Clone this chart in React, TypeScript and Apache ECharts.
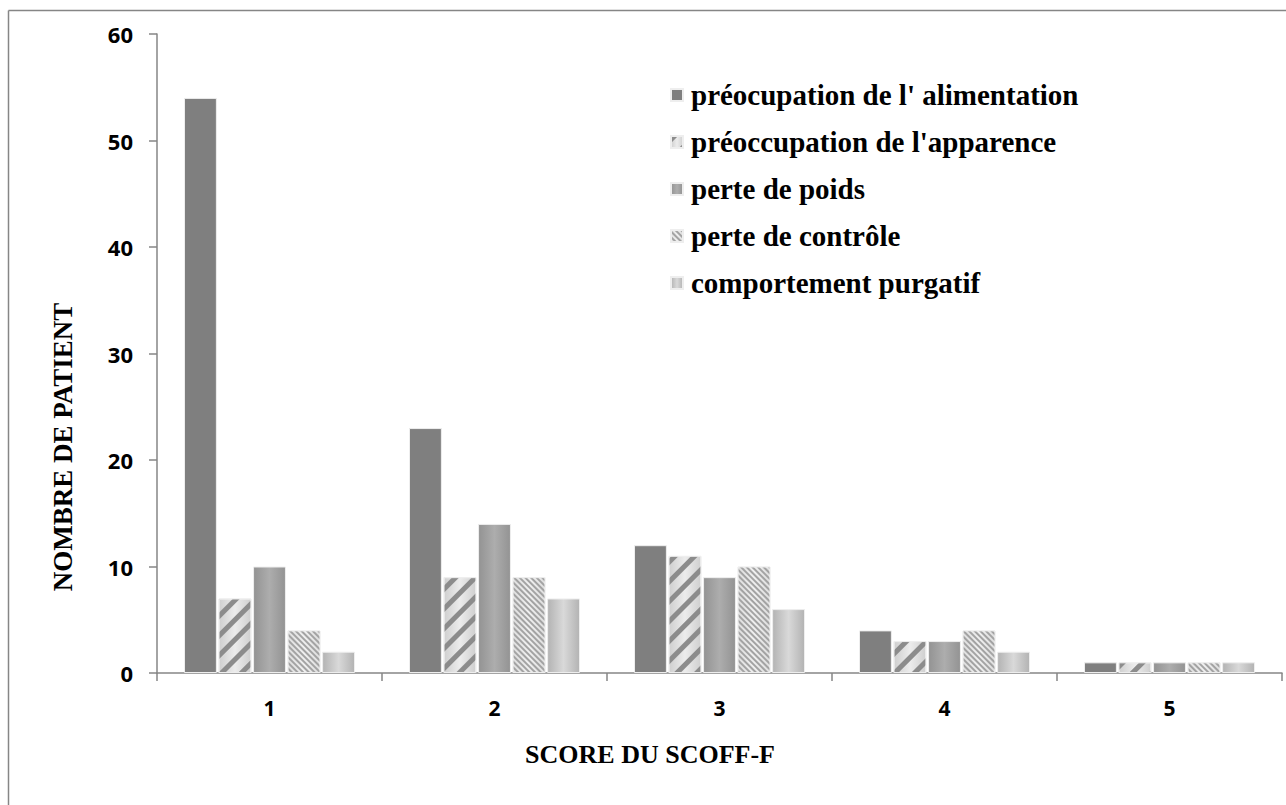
import React, { useEffect, useRef } from "react";
import * as echarts from "echarts";

const categories = ["1", "2", "3", "4", "5"];
const seriesNames = [
  "préocupation de l' alimentation",
  "préoccupation de l'apparence",
  "perte de poids",
  "perte de contrôle",
  "comportement purgatif",
];
const alimentation = [54, 23, 12, 4, 1];
const apparence = [7, 9, 11, 3, 1];
const poids = [10, 14, 9, 3, 1];
const controle = [4, 9, 10, 4, 1];
const purgatif = [2, 7, 6, 2, 1];
const yTicks = [0, 10, 20, 30, 40, 50, 60];
const xAxisTitle = "SCORE DU SCOFF-F";
const yAxisTitle = "NOMBRE DE PATIENT";

const SERIF = "'Liberation Serif', 'Times New Roman', serif";
const SANS = "'Open Sans', sans-serif";

function hGrad(edge: string, mid: string) {
  return new echarts.graphic.LinearGradient(0, 0, 1, 0, [
    { offset: 0, color: edge },
    { offset: 0.5, color: mid },
    { offset: 1, color: edge },
  ]);
}

export default function App() {
  const ref = useRef<HTMLDivElement>(null);
  useEffect(() => {
    if (!ref.current) return;
    const chart = echarts.init(ref.current, undefined, { renderer: "svg" });
    const values = [alimentation, apparence, poids, controle, purgatif];
    const styles: any[] = [
      { color: "#7f7f7f" },
      {
        color: hGrad("#cfcfcf", "#ececec"),
        decal: {
          symbol: "rect",
          symbolSize: 1,
          color: "#8c8c8c",
          dashArrayX: [1, 0],
          dashArrayY: [5, 9],
          rotation: -Math.PI / 4,
        },
      },
      { color: hGrad("#939393", "#adadad") },
      {
        color: hGrad("#dedede", "#f0f0f0"),
        decal: {
          symbol: "rect",
          symbolSize: 1,
          color: "#a3a3a3",
          dashArrayX: [1, 0],
          dashArrayY: [2, 2],
          rotation: Math.PI / 4,
        },
      },
      { color: hGrad("#b3b3b3", "#d9d9d9") },
    ];
    chart.setOption({
      animation: false,
      backgroundColor: "#ffffff",
      grid: { left: 157, right: 4, top: 34, bottom: 132, containLabel: false },
      legend: {
        orient: "vertical",
        left: 670,
        top: 80,
        padding: 0,
        itemWidth: 12,
        itemHeight: 12,
        itemGap: 17,
        icon: "rect",
        data: seriesNames,
        textStyle: {
          fontFamily: SERIF,
          fontWeight: "bold",
          fontSize: 29,
          lineHeight: 30,
          color: "#000",
          padding: [0, 0, 0, 3],
        },
      },
      xAxis: {
        type: "category",
        data: categories,
        axisLine: { lineStyle: { color: "#868686", width: 1.5 } },
        axisTick: { show: true, length: 8, lineStyle: { color: "#868686", width: 1.5 } },
        axisLabel: {
          margin: 24,
          fontFamily: SANS,
          fontWeight: "bold",
          fontSize: 21,
          color: "#000",
        },
        splitLine: { show: false },
      },
      yAxis: {
        type: "value",
        min: yTicks[0],
        max: yTicks[yTicks.length - 1],
        interval: 10,
        axisLine: { show: true, lineStyle: { color: "#868686", width: 1.5 } },
        axisTick: { show: true, length: 8, lineStyle: { color: "#868686", width: 1.5 } },
        axisLabel: {
          margin: 24,
          fontFamily: SANS,
          fontWeight: "bold",
          fontSize: 22,
          color: "#000",
        },
        splitLine: { show: false },
      },
      graphic: [
        {
          type: "line",
          shape: { x1: 8.5, y1: 10.5, x2: 1300, y2: 10.5 },
          style: { stroke: "#868686", lineWidth: 1.5 },
        },
        {
          type: "line",
          shape: { x1: 8.5, y1: 10.5, x2: 8.5, y2: 900 },
          style: { stroke: "#868686", lineWidth: 1.5 },
        },
        {
          type: "text",
          x: 650,
          y: 754,
          style: {
            text: xAxisTitle,
            fontFamily: SERIF,
            fontWeight: "bold",
            fontSize: 26,
            fill: "#000",
            align: "center",
            verticalAlign: "middle",
          },
        },
        {
          type: "text",
          x: 63,
          y: 447,
          rotation: Math.PI / 2,
          style: {
            text: yAxisTitle,
            fontFamily: SERIF,
            fontWeight: "bold",
            fontSize: 27,
            fill: "#000",
            align: "center",
            verticalAlign: "middle",
          },
        },
      ],
      series: seriesNames.map((name, i) => ({
        name,
        type: "bar",
        data: values[i],
        barGap: "5%",
        barCategoryGap: "24%",
        itemStyle: { ...styles[i], borderColor: "#eeeeee", borderWidth: 1 },
      })),
    });
    return () => chart.dispose();
  }, []);
  return (
    <div
      ref={ref}
      style={{ position: "fixed", left: 0, top: 0, width: 1286, height: 805 }}
    />
  );
}
